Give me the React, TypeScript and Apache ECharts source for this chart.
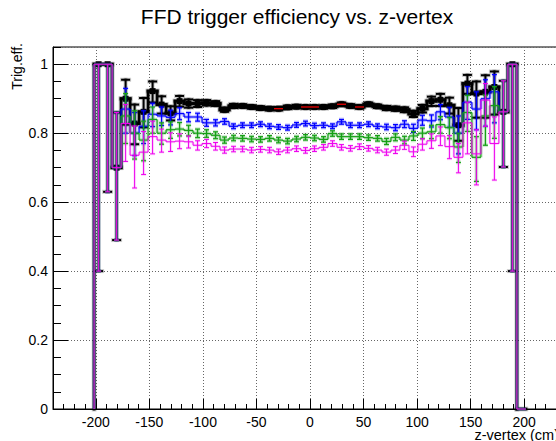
import React, { useEffect, useRef } from "react";
import * as echarts from "echarts";

// Histogram binning: 50 bins of 8.4 cm from -210 cm to 210 cm
const BIN_MIN = -210;
const BIN_WIDTH = 8.4;

const xMajorTicks = [-200, -150, -100, -50, 0, 50, 100, 150, 200];

// Efficiency per z-vertex bin (null = empty bin)
const effBlack = [
  null, 1.0, 1.0, 0.70, 0.900, 0.828, 0.862, 0.922, 0.883, 0.858,
  0.893, 0.886, 0.886, 0.888, 0.886, 0.868, 0.879, 0.879, 0.876, 0.873,
  0.871, 0.871, 0.875, 0.877, 0.876, 0.876, 0.876, 0.878, 0.884, 0.879,
  0.876, 0.884, 0.878, 0.873, 0.871, 0.868, 0.856, 0.871, 0.893, 0.897,
  0.881, 0.823, 0.944, 0.915, 0.920, 0.934, 0.862, 1.0, 0, null,
];
const errLowBlack = [
  0, 0.60, 0.37, 0.21, 0.075, 0.060, 0.045, 0.033, 0.026, 0.021,
  0.016, 0.012, 0.010, 0.008, 0.007, 0.006, 0.006, 0.005, 0.005, 0.005,
  0.005, 0.005, 0.005, 0.005, 0.005, 0.005, 0.005, 0.005, 0.005, 0.005,
  0.005, 0.005, 0.005, 0.006, 0.006, 0.007, 0.009, 0.011, 0.014, 0.018,
  0.024, 0.045, 0.030, 0.070, 0.075, 0.080, 0.160, 0.60, 0, 0,
];
const errHighBlack = [
  0, 0, 0, 0.16, 0.055, 0.055, 0.040, 0.028, 0.024, 0.020,
  0.015, 0.012, 0.010, 0.008, 0.007, 0.006, 0.006, 0.005, 0.005, 0.005,
  0.005, 0.005, 0.005, 0.005, 0.005, 0.005, 0.005, 0.005, 0.005, 0.005,
  0.005, 0.005, 0.005, 0.006, 0.006, 0.007, 0.009, 0.011, 0.013, 0.017,
  0.022, 0.050, 0.025, 0.035, 0.048, 0.045, 0.090, 0, 0, 0,
];

const effBlue = [
  null, 1.0, 1.0, 0.70, 0.870, 0.800, 0.820, 0.855, 0.850, 0.846,
  0.857, 0.847, 0.847, 0.830, 0.830, 0.834, 0.820, 0.823, 0.823, 0.826,
  0.820, 0.818, 0.816, 0.824, 0.828, 0.822, 0.823, 0.820, 0.833, 0.823,
  0.823, 0.826, 0.820, 0.818, 0.816, 0.826, 0.814, 0.838, 0.836, 0.862,
  0.847, 0.800, 0.890, 0.870, 0.900, 0.920, 0.862, 1.0, 0, null,
];
const errLowBlue = [
  0, 0.60, 0.37, 0.21, 0.070, 0.065, 0.050, 0.036, 0.028, 0.022,
  0.018, 0.014, 0.012, 0.010, 0.009, 0.008, 0.007, 0.007, 0.007, 0.007,
  0.007, 0.007, 0.007, 0.007, 0.007, 0.007, 0.007, 0.007, 0.007, 0.007,
  0.007, 0.007, 0.007, 0.008, 0.009, 0.010, 0.012, 0.015, 0.018, 0.023,
  0.030, 0.060, 0.050, 0.060, 0.080, 0.090, 0.160, 0.60, 0, 0,
];
const errHighBlue = [
  0, 0, 0, 0.16, 0.060, 0.060, 0.045, 0.032, 0.026, 0.021,
  0.017, 0.013, 0.011, 0.010, 0.009, 0.008, 0.007, 0.007, 0.007, 0.007,
  0.007, 0.007, 0.007, 0.007, 0.007, 0.007, 0.007, 0.007, 0.007, 0.007,
  0.007, 0.007, 0.007, 0.008, 0.009, 0.010, 0.012, 0.014, 0.017, 0.021,
  0.028, 0.050, 0.045, 0.050, 0.055, 0.050, 0.090, 0, 0, 0,
];

const effGreen = [
  null, 1.0, 1.0, 0.70, 0.850, 0.800, 0.780, 0.840, 0.800, 0.810,
  0.812, 0.808, 0.800, 0.799, 0.794, 0.780, 0.786, 0.785, 0.783, 0.782,
  0.785, 0.780, 0.777, 0.783, 0.788, 0.786, 0.782, 0.799, 0.790, 0.790,
  0.790, 0.787, 0.785, 0.776, 0.788, 0.780, 0.792, 0.800, 0.804, 0.825,
  0.816, 0.760, 0.860, 0.730, 0.850, 0.880, 0.862, 1.0, 0, null,
];
const errLowGreen = [
  0, 0.60, 0.37, 0.21, 0.080, 0.075, 0.060, 0.040, 0.032, 0.025,
  0.020, 0.016, 0.013, 0.011, 0.010, 0.009, 0.008, 0.008, 0.008, 0.008,
  0.008, 0.008, 0.008, 0.008, 0.008, 0.008, 0.008, 0.008, 0.008, 0.008,
  0.008, 0.008, 0.008, 0.009, 0.010, 0.011, 0.013, 0.016, 0.020, 0.025,
  0.032, 0.045, 0.055, 0.070, 0.085, 0.095, 0.160, 0.60, 0, 0,
];
const errHighGreen = [
  0, 0, 0, 0.16, 0.065, 0.065, 0.055, 0.036, 0.030, 0.023,
  0.019, 0.015, 0.012, 0.011, 0.010, 0.009, 0.008, 0.008, 0.008, 0.008,
  0.008, 0.008, 0.008, 0.008, 0.008, 0.008, 0.008, 0.008, 0.008, 0.008,
  0.008, 0.008, 0.008, 0.009, 0.010, 0.011, 0.013, 0.015, 0.019, 0.023,
  0.030, 0.040, 0.050, 0.060, 0.060, 0.055, 0.090, 0, 0, 0,
];

const effMagenta = [
  null, 1.0, 1.0, 0.70, 0.828, 0.736, 0.745, 0.790, 0.780, 0.775,
  0.777, 0.775, 0.765, 0.770, 0.762, 0.751, 0.754, 0.754, 0.751, 0.753,
  0.751, 0.746, 0.751, 0.755, 0.750, 0.755, 0.759, 0.770, 0.759, 0.756,
  0.761, 0.756, 0.751, 0.745, 0.751, 0.765, 0.746, 0.768, 0.778, 0.792,
  0.761, 0.730, 0.830, 0.740, 0.896, 0.770, 0.862, 1.0, 0, null,
];
const errLowMagenta = [
  0, 0.60, 0.37, 0.21, 0.110, 0.095, 0.065, 0.050, 0.035, 0.028,
  0.022, 0.018, 0.014, 0.012, 0.011, 0.009, 0.008, 0.008, 0.008, 0.008,
  0.008, 0.008, 0.008, 0.008, 0.008, 0.008, 0.008, 0.008, 0.008, 0.008,
  0.008, 0.008, 0.008, 0.009, 0.010, 0.012, 0.014, 0.017, 0.022, 0.028,
  0.035, 0.045, 0.090, 0.090, 0.076, 0.106, 0.160, 0.60, 0, 0,
];
const errHighMagenta = [
  0, 0, 0, 0.16, 0.055, 0.085, 0.060, 0.045, 0.032, 0.026,
  0.021, 0.017, 0.013, 0.012, 0.011, 0.009, 0.008, 0.008, 0.008, 0.008,
  0.008, 0.008, 0.008, 0.008, 0.008, 0.008, 0.008, 0.008, 0.008, 0.008,
  0.008, 0.008, 0.008, 0.009, 0.010, 0.012, 0.014, 0.016, 0.020, 0.026,
  0.032, 0.040, 0.060, 0.070, 0.048, 0.077, 0.090, 0, 0, 0,
];

const effRed = [
  null, null, null, null, null, null, null, null, null, null,
  null, null, null, null, null, null, null, null, null, null,
  null, 0.871, null, null, 0.876, 0.876, null, null, 0.884, null,
  0.876, null, null, null, null, null, null, null, null, null,
  null, null, null, null, null, null, null, null, null, null,
];

const FONT = "'Liberation Sans', Arial, Helvetica, sans-serif";
const CHART_W = 580;
const CHART_H = 441;
const FRAME = { left: 53, top: 47, right: 567, bottom: 409 };

type Val = number | null;

// One record per filled bin: [x0, x1, value, previous value (-1 = none), low, high]
function histData(values: Val[], errLow?: number[], errHigh?: number[], riseFromZero = true) {
  const out: number[][] = [];
  values.forEach((v, i) => {
    if (v == null) return;
    const x0 = BIN_MIN + BIN_WIDTH * i;
    const pv = i > 0 ? values[i - 1] : null;
    const prev = pv != null ? pv : riseFromZero ? 0 : -1;
    const lo = errLow ? v - errLow[i] : v;
    const hi = errHigh ? v + errHigh[i] : v;
    out.push([x0, x0 + BIN_WIDTH, v, prev, lo, hi]);
  });
  return out;
}

type HistStyle = {
  color: string;
  lineWidth: number;
  errWidth: number;
  cap: number;
  marker?: number;
  lineCap?: string;
  halo?: number;
  haloOpacity?: number;
};

function histRenderer(st: HistStyle) {
  return (_params: any, api: any) => {
    const x0 = api.value(0);
    const x1 = api.value(1);
    const v = api.value(2);
    const prev = api.value(3);
    const lo = api.value(4);
    const hi = api.value(5);
    const xc = (x0 + x1) / 2;
    const segs: { a: number[]; b: number[]; w: number }[] = [];
    const pL = api.coord([x0, v]);
    const pR = api.coord([x1, v]);
    segs.push({ a: pL, b: pR, w: st.lineWidth });
    if (prev >= 0) segs.push({ a: api.coord([x0, prev]), b: pL, w: st.lineWidth });
    const pc = api.coord([xc, v]);
    if (hi > v) {
      const pt = api.coord([xc, hi]);
      segs.push({ a: pc, b: pt, w: st.errWidth });
      segs.push({ a: [pt[0] - st.cap, pt[1]], b: [pt[0] + st.cap, pt[1]], w: st.errWidth });
    }
    if (lo < v) {
      const pb = api.coord([xc, lo]);
      segs.push({ a: pc, b: pb, w: st.errWidth });
      segs.push({ a: [pb[0] - st.cap, pb[1]], b: [pb[0] + st.cap, pb[1]], w: st.errWidth });
    }
    const line = (s: { a: number[]; b: number[]; w: number }, w: number, opacity: number) => ({
      type: "line",
      shape: { x1: s.a[0], y1: s.a[1], x2: s.b[0], y2: s.b[1] },
      style: { stroke: st.color, lineWidth: w, opacity, lineCap: st.lineCap || "butt" },
    });
    const children: any[] = [];
    if (st.halo) {
      segs.forEach((s) => children.push(line(s, s.w + st.halo!, st.haloOpacity ?? 0.2)));
    }
    segs.forEach((s) => children.push(line(s, s.w, 1)));
    if (st.marker && v > 0) {
      const m = st.marker;
      children.push({
        type: "rect",
        shape: { x: pc[0] - m / 2, y: pc[1] - m / 2, width: m, height: m },
        style: { fill: st.color },
      });
    }
    return { type: "group", children };
  };
}

function histSeries(name: string, data: number[][], st: HistStyle, z: number) {
  return {
    type: "custom",
    name,
    data,
    z,
    silent: true,
    clip: false,
    xAxisIndex: 0,
    yAxisIndex: 0,
    encode: { x: [0, 1], y: [2, 4, 5] },
    renderItem: histRenderer(st),
  };
}

const dotted = { type: [1, 2], color: "#666", width: 1 };

export default function App() {
  const ref = useRef<HTMLDivElement>(null);

  useEffect(() => {
    if (!ref.current) return;
    const chart = echarts.init(ref.current, undefined, { renderer: "svg" });
    const option: any = {
      animation: false,
      backgroundColor: "#fff",
      textStyle: { fontFamily: FONT },
      grid: {
        left: FRAME.left,
        top: FRAME.top,
        right: CHART_W - FRAME.right,
        bottom: CHART_H - FRAME.bottom,
        containLabel: false,
        outerBoundsMode: "none",
        show: true,
        borderColor: "#000",
        borderWidth: 1,
        backgroundColor: "#fff",
      },
      xAxis: [
        {
          type: "value",
          position: "bottom",
          min: -240,
          max: 240,
          axisLine: { onZero: false, lineStyle: { color: "#000", width: 1 } },
          axisTick: {
            inside: true,
            length: 10,
            customValues: xMajorTicks,
            lineStyle: { color: "#000", width: 1 },
          },
          axisLabel: {
            customValues: xMajorTicks,
            fontSize: 14,
            color: "#000",
            margin: 6,
            fontFamily: FONT,
          },
          splitLine: { show: true, lineStyle: dotted },
        },
        {
          type: "value",
          position: "bottom",
          min: -240,
          max: 240,
          interval: 10,
          axisLine: { show: false, onZero: false },
          axisTick: { inside: true, length: 5, lineStyle: { color: "#000", width: 1 } },
          axisLabel: { show: false },
          splitLine: { show: false },
        },
      ],
      yAxis: [
        {
          type: "value",
          position: "left",
          min: 0,
          max: 1.05,
          interval: 0.2,
          axisLine: { show: true, onZero: false, lineStyle: { color: "#000", width: 1 } },
          axisTick: { show: true, inside: true, length: 15, lineStyle: { color: "#000", width: 1 } },
          axisLabel: {
            fontSize: 14,
            color: "#000",
            margin: 5,
            showMaxLabel: false,
            fontFamily: FONT,
          },
          splitLine: { show: true, lineStyle: dotted },
        },
        {
          type: "value",
          position: "left",
          min: 0,
          max: 1.05,
          interval: 0.05,
          axisLine: { show: false, onZero: false },
          axisTick: { show: true, inside: true, length: 8, lineStyle: { color: "#000", width: 1 } },
          axisLabel: { show: false },
          splitLine: { show: false },
        },
      ],
      graphic: [
        {
          type: "text",
          x: 297,
          y: 16,
          style: {
            text: "FFD trigger efficiency vs. z-vertex",
            font: `21px ${FONT}`,
            fill: "#000",
            textAlign: "center",
            textVerticalAlign: "middle",
          },
        },
        {
          type: "text",
          x: 17,
          y: 43,
          rotation: Math.PI / 2,
          style: {
            text: "Trig.eff.",
            font: `14px ${FONT}`,
            fill: "#000",
            textAlign: "right",
            textVerticalAlign: "middle",
          },
        },
        {
          type: "text",
          x: 559,
          y: 435,
          style: {
            text: "z-vertex (cm)",
            font: `14.5px ${FONT}`,
            fill: "#000",
            textAlign: "right",
            textVerticalAlign: "middle",
          },
        },
      ],
      series: [
        histSeries(
          "black",
          histData(effBlack, errLowBlack, errHighBlack),
          {
            color: "#000000",
            lineWidth: 2.8,
            errWidth: 2,
            cap: 3.5,
            marker: 6,
            lineCap: "square",
            halo: 2,
            haloOpacity: 0.2,
          },
          2
        ),
        histSeries(
          "blue",
          histData(effBlue, errLowBlue, errHighBlue),
          { color: "#0000ff", lineWidth: 1.2, errWidth: 1.2, cap: 2.5, halo: 2.5, haloOpacity: 0.2 },
          3
        ),
        histSeries(
          "green",
          histData(effGreen, errLowGreen, errHighGreen),
          { color: "#16a016", lineWidth: 1.2, errWidth: 1.2, cap: 2.5, halo: 2.5, haloOpacity: 0.2 },
          4
        ),
        histSeries(
          "magenta",
          histData(effMagenta, errLowMagenta, errHighMagenta),
          { color: "#ee00ee", lineWidth: 1, errWidth: 1, cap: 2.5, halo: 2, haloOpacity: 0.12 },
          5
        ),
        histSeries(
          "red",
          histData(effRed, undefined, undefined, false),
          { color: "#ff0000", lineWidth: 1.2, errWidth: 1, cap: 2 },
          6
        ),
      ],
    };
    chart.setOption(option);
    return () => chart.dispose();
  }, []);

  return (
    <div
      ref={ref}
      style={{
        position: "fixed",
        left: 0,
        top: 0,
        width: CHART_W,
        height: CHART_H,
        background: "#fff",
      }}
    />
  );
}
